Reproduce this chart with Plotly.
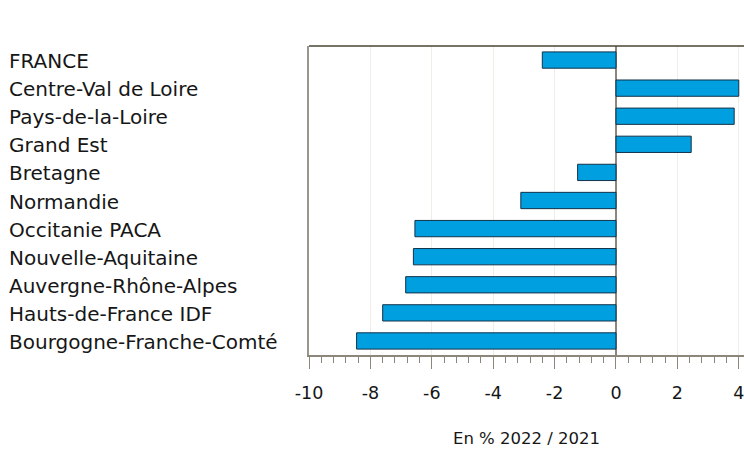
import plotly.graph_objects as go

regions = [
    "FRANCE",
    "Centre-Val de Loire",
    "Pays-de-la-Loire",
    "Grand Est",
    "Bretagne",
    "Normandie",
    "Occitanie PACA",
    "Nouvelle-Aquitaine",
    "Auvergne-Rhône-Alpes",
    "Hauts-de-France IDF",
    "Bourgogne-Franche-Comté",
]
values = [-2.4, 4.0, 3.85, 2.45, -1.25, -3.1, -6.55, -6.6, -6.85, -7.6, -8.45]
x_tick_vals = [-10, -8, -6, -4, -2, 0, 2, 4]
x_title = "En % 2022 / 2021"

FONT = "DejaVu Sans, Verdana, sans-serif"
W, H = 744, 450
ML, MT, MB = 309, 46, 95
PW = W - ML

fig = go.Figure()
fig.add_trace(go.Bar(
    x=values,
    y=regions,
    orientation="h",
    width=0.58,
    marker=dict(color="#009FE0", line=dict(color="#12324a", width=1)),
    hoverinfo="x+y",
))

# left-aligned category labels
for r in regions:
    fig.add_annotation(
        x=-(ML - 7) / PW, xref="paper", y=r, yref="y",
        text=r, showarrow=False, xanchor="left", yanchor="middle",
        yshift=-1,
        font=dict(family=FONT, size=20, color="#161616"),
    )

# dark top border
fig.add_shape(type="line", xref="paper", yref="paper", x0=0, x1=1, y0=1, y1=1,
              line=dict(color="#4a4535", width=1.5))

fig.update_layout(
    width=W, height=H,
    margin=dict(l=ML, r=0, t=MT, b=MB),
    plot_bgcolor="white", paper_bgcolor="white",
    showlegend=False,
    font=dict(family=FONT, size=17.5, color="#161616"),
)
fig.update_xaxes(
    range=[-10, 4.17],
    tickvals=x_tick_vals,
    ticktext=[str(v) for v in x_tick_vals],
    ticks="outside", ticklen=12, tickwidth=1, tickcolor="#8c877a",
    showline=True, linecolor="#8c877a", linewidth=1.5,
    showgrid=True, gridcolor="#efeee4", gridwidth=1,
    zeroline=True, zerolinecolor="#8c877a", zerolinewidth=1.5,
    minor=dict(ticks="outside", ticklen=6, tick0=-10, dtick=0.4,
               tickcolor="#8c877a", tickwidth=1, showgrid=False),
    ticklabelstandoff=9,
    ticklabeloverflow="allow",
    automargin=False,
    tickfont=dict(family=FONT, size=17.5, color="#161616"),
    title=dict(text=x_title, font=dict(family=FONT, size=16.5, color="#161616"), standoff=31),
)
fig.update_yaxes(
    categoryorder="array", categoryarray=regions,
    range=[10.5, -0.5],
    showticklabels=False, ticks="",
    showline=True, linecolor="#9c978a", linewidth=2,
    showgrid=False, zeroline=False, automargin=False,
)

fig.write_html(
    "out.html",
    config={"displayModeBar": False},
    post_script="document.body.style.margin='0';document.body.style.overflow='hidden';",
)
